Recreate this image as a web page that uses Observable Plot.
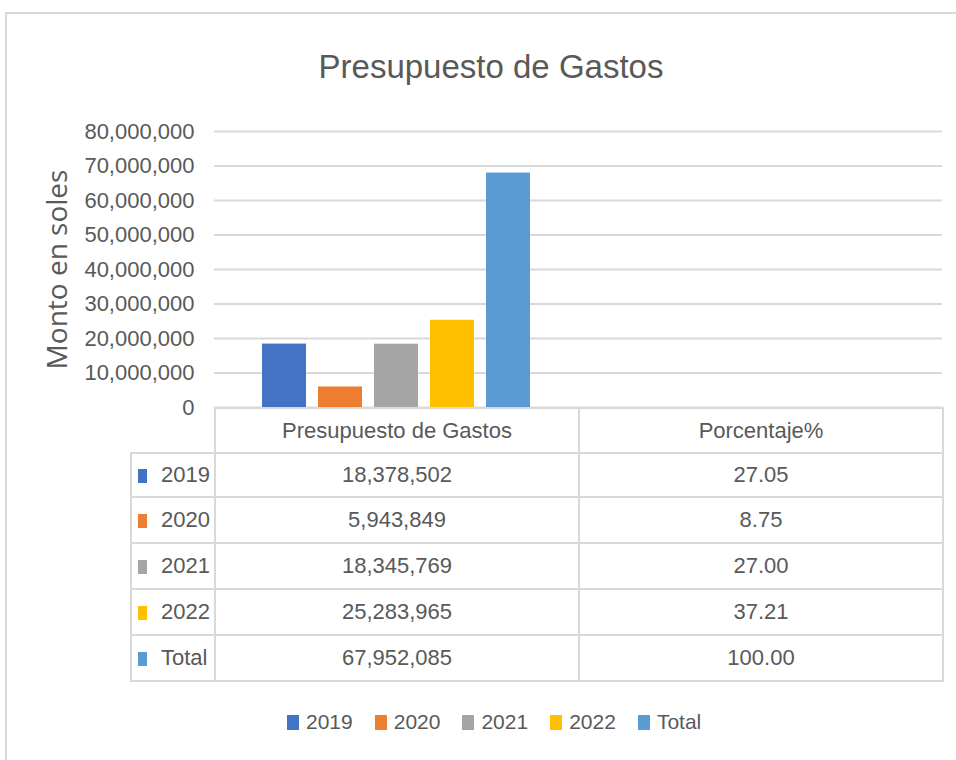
<!DOCTYPE html>
<html><head><meta charset="utf-8">
<script src="https://cdn.jsdelivr.net/npm/d3@7"></script>
<script src="https://cdn.jsdelivr.net/npm/@observablehq/plot@0.6"></script>
<style>
body{margin:0;background:#fff;}
#wrap{position:relative;width:956px;height:760px;overflow:hidden;font-family:"Liberation Sans",Arial,sans-serif;color:#595959;background:#fff;}
#frame{position:absolute;left:5px;top:12px;width:1000px;height:800px;border-left:2px solid #d9d9d9;border-top:2px solid #d9d9d9;}
#title{position:absolute;left:0;width:982px;top:50px;text-align:center;font-size:33px;line-height:33px;white-space:nowrap;}
#chart{position:absolute;left:0;top:0;}
#tbl{position:absolute;left:130px;top:407px;width:812px;table-layout:fixed;border-collapse:collapse;font-size:22px;color:#595959;}
#tbl td{border:2px solid #d9d9d9;padding:0;text-align:center;white-space:nowrap;overflow:hidden;}
#tbl td.lab{text-align:left;padding-left:6px;}
#tbl td.blank{border-top:none;border-left:none;}
.sw{display:inline-block;width:9px;height:14px;margin-right:14px;vertical-align:-1px;}
#legend{position:absolute;left:287px;top:710px;}
#legend .leg{display:flex;align-items:center;font-size:21px;color:#595959;font-family:"Liberation Sans",Arial,sans-serif;}
#legend .item{display:flex;align-items:center;margin-right:22px;}
#legend .item span.sq{display:inline-block;width:12px;height:15px;margin-right:7px;}
</style>
</head><body>
<div id="wrap">
  <div id="frame"></div>
  <div id="title">Presupuesto de Gastos</div>
  <div id="chart"></div>
  <table id="tbl"></table>
  <div id="legend"></div>
</div>
<script>
const categories = ["Presupuesto de Gastos", "Porcentaje%"];
const series = ["2019", "2020", "2021", "2022", "Total"];
const presupuesto = [18378502, 5943849, 18345769, 25283965, 67952085];
const porcentaje = [27.05, 8.75, 27.00, 37.21, 100.00];
const porcentajeLabels = ["27.05", "8.75", "27.00", "37.21", "100.00"];
const colors = ["#4472C4", "#ED7D31", "#A5A5A5", "#FFC000", "#5B9BD5"];
const yTicks = [0, 10000000, 20000000, 30000000, 40000000, 50000000, 60000000, 70000000, 80000000];

const data = categories.flatMap((c, i) =>
  series.map((s, j) => ({category: c, serie: s, value: i === 0 ? presupuesto[j] : porcentaje[j]}))
);

const fmt = d3.format(",");
const font = "Liberation Sans, Arial, sans-serif";

const chart = Plot.plot({
  width: 956,
  height: 420,
  marginLeft: 214,
  marginRight: 14,
  marginTop: 131,
  marginBottom: 13,
  style: {background: "transparent", color: "#595959", fontFamily: font, overflow: "visible"},
  fx: {domain: categories, padding: 0, axis: null},
  x: {domain: series, paddingInner: 0.214, paddingOuter: 0.857, axis: null},
  y: {domain: [0, 80000000]},
  color: {domain: series, range: colors},
  marks: [
    Plot.gridY(yTicks, {stroke: "#d9d9d9", strokeOpacity: 1, strokeWidth: 2}),
    Plot.axisY(yTicks, {tickSize: 0, tickPadding: 20, tickFormat: fmt, fontSize: 22, label: null, fill: "#595959"}),
    Plot.axisY({ticks: [], tickSize: 0, label: "Monto en soles", labelAnchor: "center", labelArrow: "none", labelOffset: 167, fontSize: 28, fontFamily: "Open Sans, sans-serif", fill: "#595959"}),
    Plot.barY(data, {fx: "category", x: "serie", y: "value", fill: "serie"})
  ]
});
document.getElementById("chart").appendChild(chart);

// data table
const tbl = document.getElementById("tbl");
const colW = [84, 364, 364];
const rowH = [45, 44, 46, 46, 46, 46];
let html = `<colgroup>${colW.map(w => `<col style="width:${w}px">`).join("")}</colgroup>`;
html += `<tr style="height:${rowH[0]}px"><td class="blank"></td>` +
  categories.map(c => `<td>${c}</td>`).join("") + `</tr>`;
series.forEach((s, j) => {
  html += `<tr style="height:${rowH[j + 1]}px"><td class="lab"><span class="sw" style="background:${colors[j]}"></span>${s}</td>` +
    `<td>${fmt(presupuesto[j])}</td><td>${porcentajeLabels[j]}</td></tr>`;
});
tbl.innerHTML = html;

// legend
const legDiv = document.getElementById("legend");
const box = document.createElement("div");
box.className = "leg";
series.forEach((s, j) => {
  const it = document.createElement("div");
  it.className = "item";
  it.innerHTML = `<span class="sq" style="background:${colors[j]}"></span>${s}`;
  box.appendChild(it);
});
legDiv.appendChild(box);
</script>
</body></html>
